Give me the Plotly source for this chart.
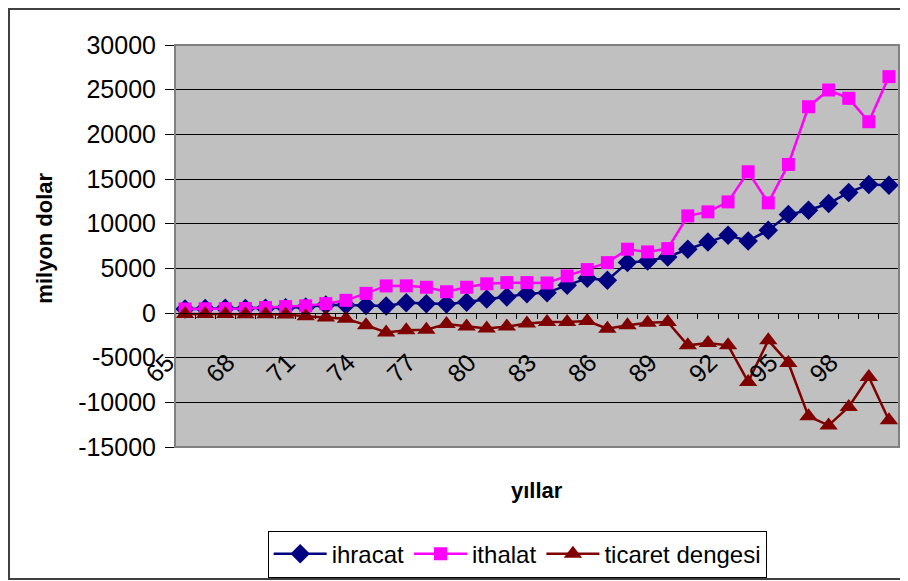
import plotly.graph_objects as go

years = list(range(1965, 2001))
tick_years = [1965, 1968, 1971, 1974, 1977, 1980, 1983, 1986, 1989, 1992, 1995, 1998]
tick_labels = ["65", "68", "71", "74", "77", "80", "83", "86", "89", "92", "95", "98"]
y_ticks = [-15000, -10000, -5000, 0, 5000, 10000, 15000, 20000, 25000, 30000]
y_tick_labels = ["-15000", "-10000", "-5000", "0", "5000", "10000", "15000", "20000", "25000", "30000"]

ihracat = [460, 490, 520, 500, 540, 590, 680, 890, 900, 830, 780, 1140, 1030, 1000, 1200, 1560,
           1800, 2150, 2280, 3100, 3900, 3660, 5640, 5830, 6280, 7140, 7960, 8710, 8070, 9270,
           11020, 11510, 12260, 13490, 14390, 14310]
ithalat = [450, 470, 480, 500, 610, 720, 800, 1050, 1420, 2200, 3030, 3040, 2880, 2380, 2880, 3270,
           3400, 3400, 3360, 4150, 4860, 5640, 7140, 6840, 7210, 10870, 11320, 12440, 15810, 12330,
           16630, 23090, 24960, 24030, 21410, 26460]
ticaret = [-100, -120, -120, -150, -150, -160, -350, -500, -640, -1360, -2170, -1920, -1880, -1220,
           -1520, -1740, -1520, -1180, -1010, -1010, -900, -1750, -1380, -1080, -1010, -3620, -3360,
           -3620, -7720, -3060, -5600, -11570, -12580, -10520, -7160, -12010]

FONT = "Liberation Sans, Arial, sans-serif"

fig = go.Figure()
fig.add_trace(go.Scatter(x=years, y=ihracat, name="ihracat", mode="lines+markers",
                         line=dict(color="#000080", width=2.5),
                         marker=dict(symbol="diamond", size=15, color="#000080")))
fig.add_trace(go.Scatter(x=years, y=ithalat, name="ithalat", mode="lines+markers",
                         line=dict(color="#FF00FF", width=2.5),
                         marker=dict(symbol="square", size=13, color="#FF00FF")))
fig.add_trace(go.Scatter(x=years, y=ticaret, name="ticaret dengesi", mode="lines+markers",
                         line=dict(color="#800000", width=2.5),
                         marker=dict(symbol="triangle-up", size=16, color="#800000")))

fig.update_layout(
    width=900, height=573, autosize=False,
    margin=dict(l=167, r=9, t=37, b=134, pad=0),
    paper_bgcolor="white", plot_bgcolor="#C0C0C0",
    font=dict(family=FONT, size=24, color="black"),
    showlegend=True,
    legend=dict(orientation="h", x=0.128, xanchor="left",
                yref="container", y=0.088, yanchor="top",
                bgcolor="white", bordercolor="black", borderwidth=1,
                font=dict(size=24), itemwidth=53, tracegroupgap=0),
    xaxis=dict(type="linear", range=[1964.5, 2000.5], tickmode="array",
               tickvals=tick_years, ticktext=tick_labels, tickangle=-45,
               ticks="", showgrid=False, zeroline=False, automargin=False,
               showline=True, linecolor="black", linewidth=1,
               anchor="free", position=1/3,
               ticklabelstandoff=24, ticklabelshift=-18,
               tickfont=dict(size=25),
               minor=dict(ticks="outside", ticklen=5, tickcolor="black", tickwidth=1,
                          tick0=1964.5, dtick=1, showgrid=False)),
    yaxis=dict(range=[-15000, 30000], tickmode="array", tickvals=y_ticks, ticktext=y_tick_labels,
               showgrid=True, gridcolor="black", gridwidth=1, zeroline=False, automargin=False,
               ticks="outside", ticklen=9, tickcolor="black",
               showline=True, linecolor="black", linewidth=1,
               ticklabelstandoff=4,
               tickfont=dict(size=25)),
    shapes=[
        dict(type="rect", xref="paper", yref="paper", x0=0, y0=0, x1=1, y1=1,
             line=dict(color="#808080", width=2), fillcolor="rgba(0,0,0,0)"),
        dict(type="rect", xref="paper", yref="paper", x0=-0.2293, y0=-0.3284, x1=1.06, y1=1.0896,
             line=dict(color="#404040", width=2), fillcolor="rgba(0,0,0,0)"),
    ],
    annotations=[
        dict(text="<b>yıllar</b>", xref="paper", yref="paper", x=0.5, y=-0.107,
             xanchor="center", yanchor="middle", showarrow=False, font=dict(size=22)),
        dict(text="<b>milyon dolar</b>", xref="paper", yref="paper", x=-0.18, y=0.52,
             xanchor="center", yanchor="middle", textangle=-90, showarrow=False,
             font=dict(size=22)),
    ],
)

fig.write_html("out.html")
